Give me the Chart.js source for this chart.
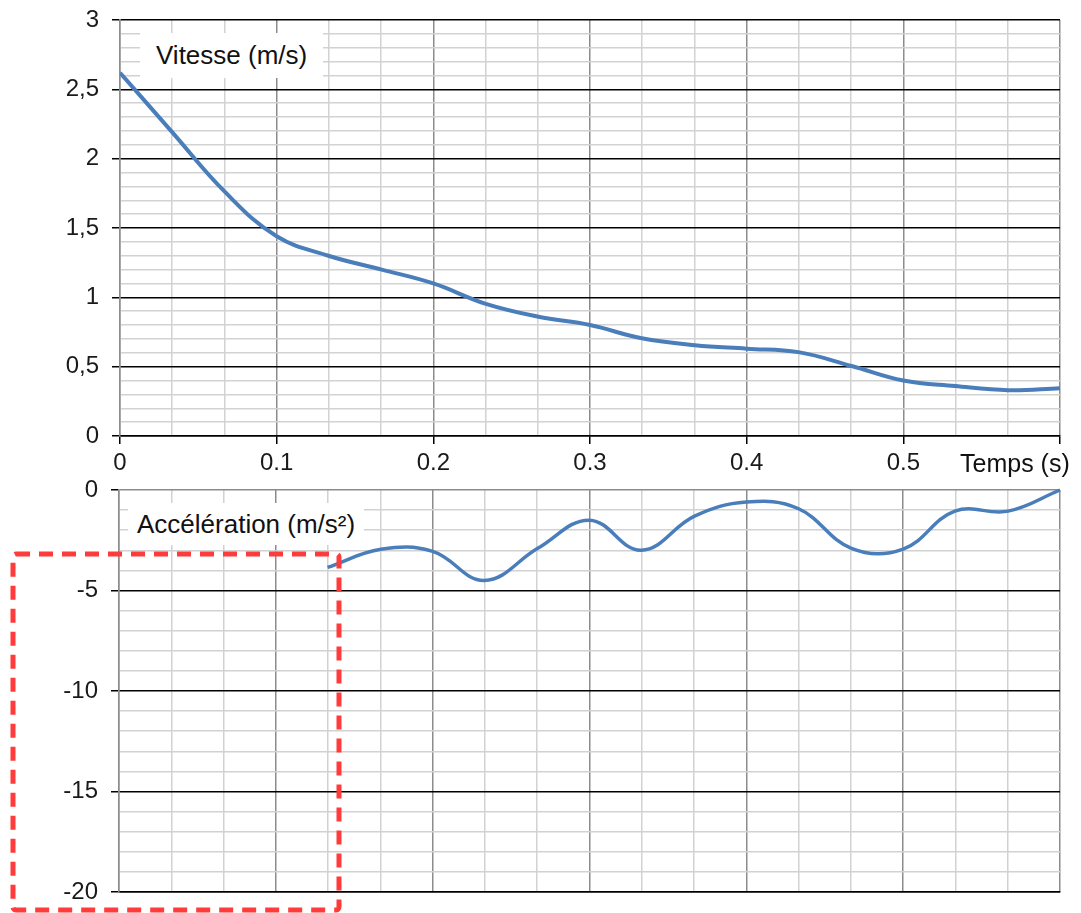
<!DOCTYPE html>
<html>
<head>
<meta charset="utf-8">
<script src="https://cdn.jsdelivr.net/npm/chart.js@4.4.0/dist/chart.umd.min.js"></script>
<style>
  body{margin:0;background:#fff;width:1081px;height:913px;position:relative;overflow:hidden;font-family:"Liberation Sans",Arial,sans-serif}
  #wrapV{position:absolute;left:0;top:0;width:1081px;height:480px}
  #wrapA{position:absolute;left:0;top:480px;width:1081px;height:433px}
  .lbl{position:absolute;background:#fff;color:#111;font-size:26px;line-height:26px;white-space:nowrap}
  #redbox{position:absolute;left:0;top:0;width:1081px;height:913px;pointer-events:none}
</style>
</head>
<body>
<div id="wrapV"><canvas id="vitesse"></canvas></div>
<div id="wrapA"><canvas id="accel"></canvas></div>

<div class="lbl" style="left:140px;top:33px;padding:9px 16px 10px 16px">Vitesse (m/s)</div>
<div class="lbl" style="left:128px;top:503px;padding:8px 9px 8px 9px">Accélération (m/s²)</div>
<div class="lbl" style="left:960px;top:450px;background:none;font-size:25px">Temps (s)</div>

<svg id="redbox" viewBox="0 0 1081 913">
  <rect x="13" y="554" width="326" height="356" rx="3" fill="none" stroke="#ff3b3b" stroke-width="5" stroke-dasharray="14 9"/>
</svg>

<script>
// start data
const temps = [0, 0.033, 0.067, 0.1, 0.133, 0.167, 0.2, 0.233, 0.267, 0.3, 0.333, 0.367, 0.4, 0.433, 0.467, 0.5, 0.533, 0.567, 0.6];
const vitesse = [2.62, 2.195, 1.76, 1.44, 1.30, 1.20, 1.10, 0.955, 0.86, 0.80, 0.705, 0.655, 0.63, 0.605, 0.505, 0.40, 0.36, 0.33, 0.345];

const tempsAcc = [0.133, 0.167, 0.2, 0.233, 0.267, 0.3, 0.333, 0.367, 0.4, 0.433, 0.467, 0.5, 0.533, 0.567, 0.6];
const acceleration = [-3.85, -2.95, -3.05, -4.5, -2.9, -1.5, -3.0, -1.3, -0.6, -0.92, -2.9, -2.94, -1.05, -1.05, 0];

const xTicks = [0, 0.1, 0.2, 0.3, 0.4, 0.5, 0.6];
const vTickLabels = ['0', '0,5', '1', '1,5', '2', '2,5', '3'];
const aTickLabels = ['-20', '-15', '-10', '-5', '0'];
// end data

const bleu = '#4a7ebb';
const noir = '#000';
const grisFort = '#8c8c8c';
const grisClair = '#d2d2d2';
const tickFont = {family: '"Liberation Sans", Arial, sans-serif', size: 24};

// x grid : one line every 1/30 s, darker every 0.1 s
function buildX(scale){
  const t = [];
  for (let k = 0; k <= 18; k++) t.push({value: k / 30});
  scale.ticks = t;
}

function xScale(showLabels){
  return {
    type: 'linear', min: 0, max: 0.6,
    afterBuildTicks: buildX,
    afterFit: s => {
      s.height = showLabels ? 44 : 0;
      s.paddingLeft = 0; s.paddingRight = 0;
    },
    grid: {
      color: c => (c.index % 3 === 0 ? grisFort : grisClair),
      tickColor: c => (c.index % 3 === 0 ? noir : 'rgba(0,0,0,0)'),
      lineWidth: 1.5,
      drawTicks: showLabels,
      tickLength: 8
    },
    border: {color: noir, width: 1.5},
    ticks: {
      display: showLabels,
      autoSkip: false, maxRotation: 0, padding: 5,
      color: '#1a1a1a', font: tickFont,
      callback: (v, i) => {
        if (i % 3 !== 0 || i === 18) return '';
        return String(xTicks[i / 3]);
      }
    }
  };
}

function yFit(w){
  return s => { s.width = w; s.paddingTop = 0; s.paddingBottom = 0; };
}

Chart.defaults.animation = false;

// start vitesse
new Chart(document.getElementById('vitesse'), {
  type: 'line',
  data: {
    datasets: [{
      data: temps.map((t, i) => ({x: t, y: vitesse[i]})),
      borderColor: bleu, borderWidth: 4, pointRadius: 0, tension: 0.4
    }]
  },
  options: {
    responsive: true, maintainAspectRatio: false,
    layout: {padding: {top: 20, right: 21, left: 0, bottom: 0}},
    plugins: {legend: {display: false}, tooltip: {enabled: false}},
    scales: {
      x: xScale(true),
      y: {
        min: 0, max: 3,
        afterBuildTicks: s => {
          const t = [];
          for (let i = 0; i <= 30; i++) t.push({value: i / 10});
          s.ticks = t;
        },
        afterFit: yFit(120),
        grid: {
          color: c => (c.index % 5 === 0 ? noir : grisClair),
          tickColor: c => (c.index % 5 === 0 ? noir : 'rgba(0,0,0,0)'),
          lineWidth: 1.5, tickLength: 8
        },
        border: {color: grisFort, width: 1.5},
        ticks: {
          autoSkip: false,
          padding: 13, color: '#1a1a1a', font: tickFont,
          callback: (v, i) => (i % 5 === 0 ? vTickLabels[i / 5] : '')
        }
      }
    }
  }
});
// end vitesse

// start acceleration
new Chart(document.getElementById('accel'), {
  type: 'line',
  data: {
    datasets: [{
      data: tempsAcc.map((t, i) => ({x: t, y: acceleration[i]})),
      borderColor: bleu, borderWidth: 3.5, pointRadius: 0, tension: 0.4, clip: false
    }]
  },
  options: {
    responsive: true, maintainAspectRatio: false,
    layout: {padding: {top: 10, right: 21, left: 0, bottom: 21}},
    plugins: {legend: {display: false}, tooltip: {enabled: false}},
    scales: {
      x: xScale(false),
      y: {
        min: -20, max: 0,
        afterBuildTicks: s => {
          const t = [];
          for (let i = -20; i <= 0; i++) t.push({value: i});
          s.ticks = t;
        },
        afterFit: yFit(119),
        grid: {
          color: c => (c.index % 5 !== 0 ? grisClair : (c.index === 20 ? grisFort : noir)),
          tickColor: c => (c.index % 5 === 0 ? noir : 'rgba(0,0,0,0)'),
          lineWidth: 1.5, tickLength: 8
        },
        border: {color: grisFort, width: 1.5},
        ticks: {
          autoSkip: false,
          padding: 13, color: '#1a1a1a', font: tickFont,
          callback: (v, i) => (i % 5 === 0 ? aTickLabels[i / 5] : '')
        }
      }
    }
  }
});
// end acceleration
</script>
</body>
</html>
